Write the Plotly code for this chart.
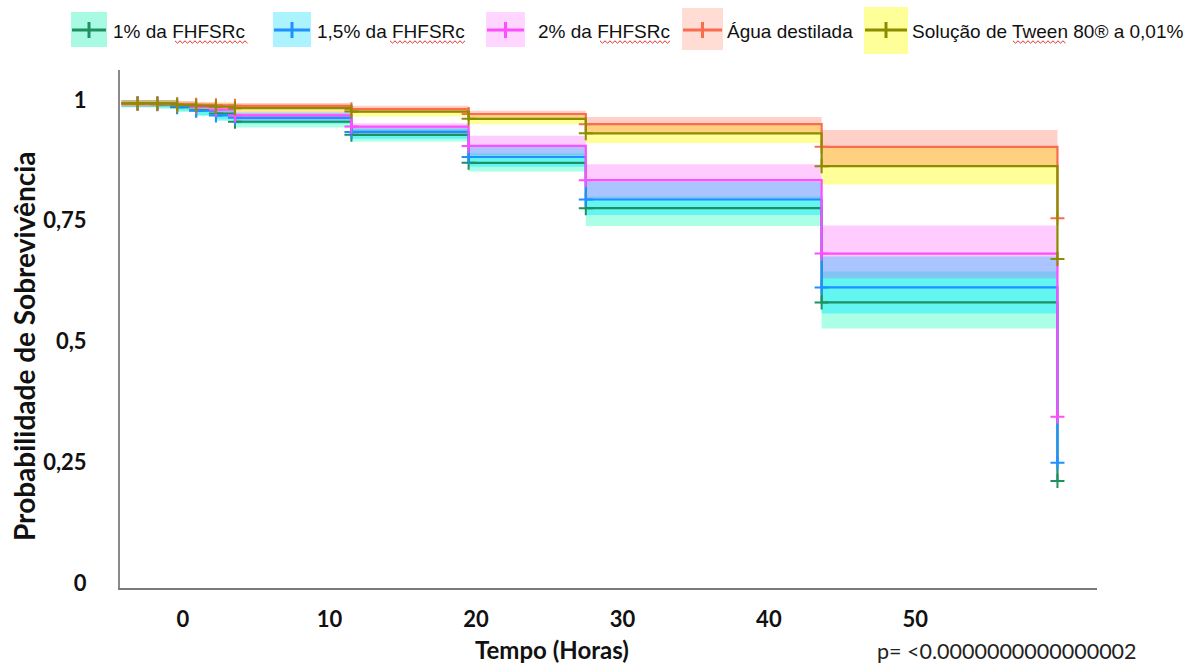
import plotly.graph_objects as go

# ---------------- data ----------------
times = [-4.2, -3.1, -1.75, -0.4, 0.9, 2.25, 3.55, 11.5, 19.5, 27.5, 43.6, 59.7]

groups = ["1% da FHFSRc", "1,5% da FHFSRc", "2% da FHFSRc", "Água destilada", "Solução de Tween 80® a 0,01%"]

surv_1 = [0.993, 0.993, 0.991, 0.985, 0.979, 0.972, 0.955, 0.928, 0.870, 0.776, 0.581, 0.211]
low_1 = [0.985, 0.985, 0.982, 0.975, 0.968, 0.960, 0.943, 0.914, 0.852, 0.739, 0.527]
up_1 = [1.000, 1.000, 0.999, 0.994, 0.989, 0.983, 0.968, 0.940, 0.889, 0.800, 0.645]

surv_15 = [0.993, 0.993, 0.992, 0.987, 0.978, 0.968, 0.963, 0.934, 0.882, 0.794, 0.612, 0.249]
low_15 = [0.985, 0.985, 0.984, 0.978, 0.968, 0.957, 0.951, 0.920, 0.862, 0.762, 0.558]
up_15 = [1.000, 1.000, 1.000, 0.995, 0.988, 0.979, 0.974, 0.945, 0.903, 0.831, 0.676]

surv_2 = [0.993, 0.993, 0.993, 0.990, 0.985, 0.980, 0.968, 0.945, 0.905, 0.834, 0.682, 0.344]
low_2 = [0.986, 0.986, 0.986, 0.982, 0.976, 0.970, 0.957, 0.930, 0.885, 0.795, 0.631]
up_2 = [1.000, 1.000, 1.000, 0.998, 0.994, 0.990, 0.979, 0.952, 0.926, 0.867, 0.740]

surv_agua = [0.993, 0.993, 0.993, 0.991, 0.990, 0.989, 0.988, 0.981, 0.971, 0.950, 0.903, 0.755]
low_agua = [0.987, 0.987, 0.987, 0.985, 0.983, 0.981, 0.981, 0.973, 0.962, 0.931, 0.865]
up_agua = [1.000, 1.000, 1.000, 0.997, 0.996, 0.995, 0.994, 0.988, 0.978, 0.965, 0.938]

surv_tween = [0.993, 0.993, 0.993, 0.990, 0.988, 0.986, 0.983, 0.976, 0.961, 0.931, 0.863, 0.671]
low_tween = [0.987, 0.987, 0.987, 0.983, 0.980, 0.977, 0.974, 0.966, 0.950, 0.911, 0.825]
up_tween = [1.000, 1.000, 1.000, 0.997, 0.995, 0.994, 0.991, 0.984, 0.970, 0.950, 0.904]

x_ticks = [0, 10, 20, 30, 40, 50]
y_ticks = [0, 0.25, 0.5, 0.75, 1]
y_ticktext = ["0", "0,25", "0,5", "0,75", "1"]

# ---------------- styles ----------------
W, H = 1191, 666
L, R, T, B = 120, 94, 70, 78
PW, PH = W - L - R, H - T - B

series = [
    (groups[0], surv_1, low_1, up_1, "#1f9060", "rgba(0,255,180,0.33)", "#a8fbe2"),
    (groups[1], surv_15, low_15, up_15, "#1e90ff", "rgba(0,230,255,0.42)", "#aaf3ff"),
    (groups[2], surv_2, low_2, up_2, "#ff4dff", "rgba(255,0,255,0.20)", "#ffd6ff"),
    (groups[3], surv_agua, low_agua, up_agua, "#fa6b4f", "rgba(255,99,71,0.30)", "#ffdcd4"),
    (groups[4], surv_tween, low_tween, up_tween, "#8c8c00", "rgba(255,255,0,0.40)", "#ffff99"),
]

fig = go.Figure()

# confidence bands (yellow before orange so orange overlaps it; magenta over blue/green)
band_order = [0, 1, 2, 4, 3]
for i in band_order:
    name, s, lo, up, col, fillc, _ = series[i]
    fig.add_trace(go.Scatter(x=times, y=lo + [lo[-1]], mode="lines", line=dict(width=0, shape="hv"),
                             showlegend=False, hoverinfo="skip"))
    fig.add_trace(go.Scatter(x=times, y=up + [up[-1]], mode="lines", line=dict(width=0, shape="hv"),
                             fill="tonexty", fillcolor=fillc, showlegend=False, hoverinfo="skip"))

# survival step lines and censor marks
for i in [0, 1, 2, 3, 4]:
    name, s, lo, up, col, fillc, _ = series[i]
    fig.add_trace(go.Scatter(x=times, y=s, mode="lines", line=dict(color=col, width=2.2, shape="hv"),
                             showlegend=False, name=name))
    fig.add_trace(go.Scatter(x=times[1:], y=s[1:], mode="markers",
                             marker=dict(symbol="cross-thin", size=10, color=col,
                                         line=dict(color=col, width=2)),
                             showlegend=False, hoverinfo="skip"))


def px2paper(x, y):
    return (x - L) / PW, (H - B - y) / PH


shapes = []
annotations = []

# manual legend
leg_items = [
    (71, 107, 12, 47, 111),
    (273, 311, 12, 47, 315),
    (486, 525, 12, 47, 536),
    (682, 723, 8, 50, 725),
    (864, 908, 7, 54, 910),
]
leg_y = 30
for (x0, x1, y0, y1, tx), ser in zip(leg_items, series):
    name, _, _, _, col, _, boxc = ser
    px0, py1 = px2paper(x0, y0)
    px1, py0 = px2paper(x1, y1)
    shapes.append(dict(type="rect", xref="paper", yref="paper", x0=px0, x1=px1, y0=py0, y1=py1,
                       fillcolor=boxc, line=dict(width=0), layer="above"))
    lx0, ly = px2paper(x0 + 1, leg_y)
    lx1, _ = px2paper(x1 - 1, leg_y)
    shapes.append(dict(type="line", xref="paper", yref="paper", x0=lx0, x1=lx1, y0=ly, y1=ly,
                       line=dict(color=col, width=3), layer="above"))
    cx = (x0 + x1) / 2
    vx, vy0 = px2paper(cx, leg_y - 8)
    _, vy1 = px2paper(cx, leg_y + 8)
    shapes.append(dict(type="line", xref="paper", yref="paper", x0=vx, x1=vx, y0=vy0, y1=vy1,
                       line=dict(color=col, width=3), layer="above"))
    ax, ay = px2paper(tx, leg_y + 1)
    annotations.append(dict(xref="paper", yref="paper", x=ax, y=ay, text=name, showarrow=False,
                            xanchor="left", yanchor="middle",
                            font=dict(family="Liberation Sans, Arial", size=19, color="#111111")))

# red wavy spell-check underlines
for (ux0, ux1) in [(175, 249), (390, 466), (600, 672), (1013, 1066)]:
    pts = []
    x = ux0
    k = 0
    while x <= ux1:
        yy = 42 + (1.2 if k % 2 else -1.2)
        px, py = px2paper(x, yy)
        pts.append(f"{'M' if k == 0 else 'L'} {px:.5f} {py:.5f}")
        x += 2.5
        k += 1
    shapes.append(dict(type="path", xref="paper", yref="paper", path=" ".join(pts),
                       line=dict(color="#e03030", width=1), layer="above"))

# axis titles and p-value
tx, ty = px2paper(552, 649)
annotations.append(dict(xref="paper", yref="paper", x=tx, y=ty, text="<b>Tempo (Horas)</b>", showarrow=False,
                        xanchor="center", yanchor="middle",
                        font=dict(family="Lato", size=24, color="#111111")))
tx, ty = px2paper(24, 346)
annotations.append(dict(xref="paper", yref="paper", x=tx, y=ty, text="<b>Probabilidade de Sobrevivência</b>",
                        showarrow=False, textangle=-90, xanchor="center", yanchor="middle",
                        font=dict(family="Lato", size=28, color="#111111")))
tx, ty = px2paper(875, 651)
annotations.append(dict(xref="paper", yref="paper", x=tx, y=ty, text="p= <0.0000000000000002", showarrow=False,
                        xanchor="left", yanchor="middle",
                        font=dict(family="Lato", size=21.5, color="#222222")))

fig.update_layout(
    width=W, height=H,
    margin=dict(l=L, r=R, t=T, b=B, pad=0),
    paper_bgcolor="white", plot_bgcolor="white",
    shapes=shapes, annotations=annotations,
    showlegend=False,
    xaxis=dict(range=[-4.3, 62.4], tickmode="array", tickvals=x_ticks, showgrid=False, zeroline=False,
               showline=True, linecolor="#7a7a7a", linewidth=2, ticks="",
               ticklabelstandoff=11,
               tickfont=dict(family="Lato", size=22, color="#111111", weight="bold")),
    yaxis=dict(range=[-5 / 483, 1 + 30 / 483], tickmode="array", tickvals=y_ticks, ticktext=y_ticktext,
               showgrid=False, zeroline=False, showline=True, linecolor="#8a8a8a", linewidth=2, ticks="",
               ticklabelstandoff=27,
               tickfont=dict(family="Lato", size=22, color="#111111", weight="bold")),
)

fig.write_html("out.html")
